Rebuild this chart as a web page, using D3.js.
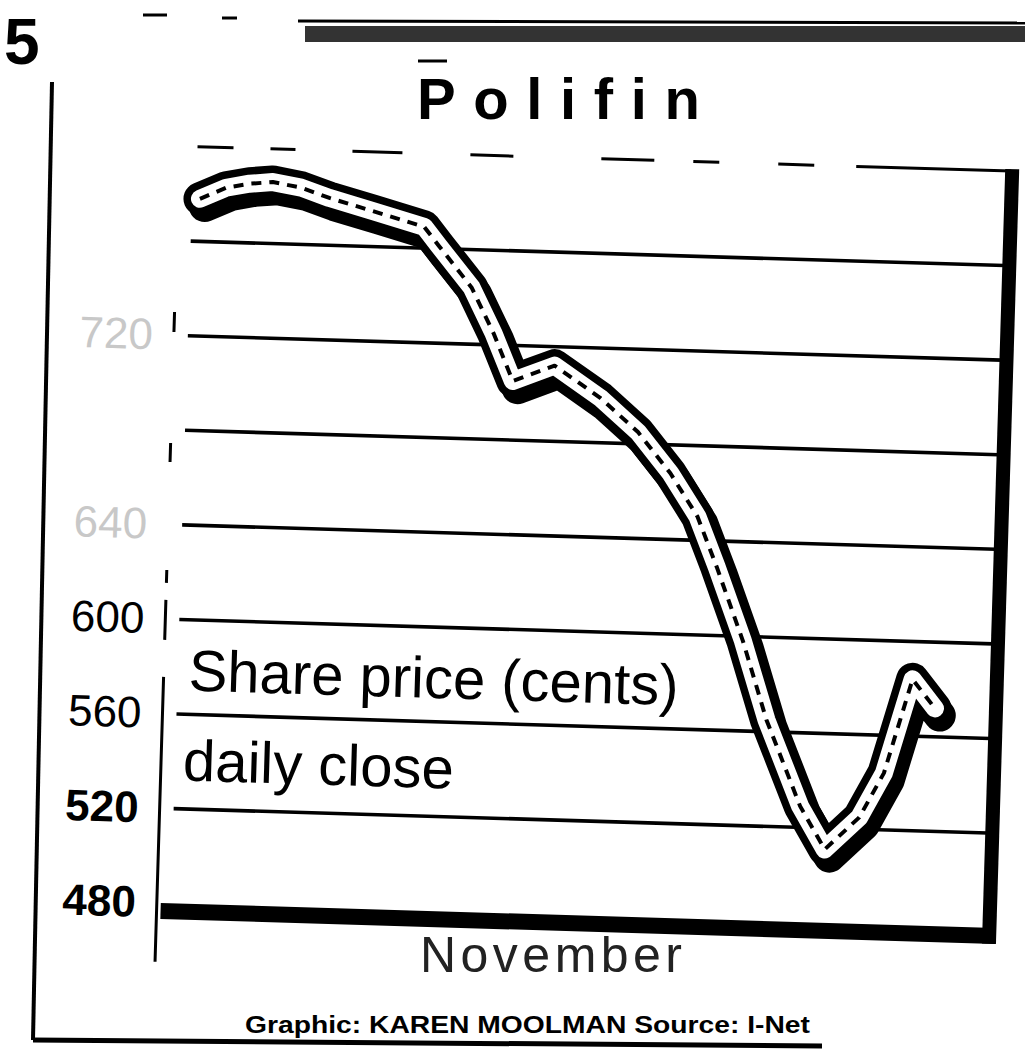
<!DOCTYPE html>
<html>
<head>
<meta charset="utf-8">
<script src="https://cdn.jsdelivr.net/npm/d3@7"></script>
<style>
  html, body { margin: 0; padding: 0; background: #fff; }
  svg { display: block; font-family: "Liberation Sans", Arial, sans-serif; }
</style>
</head>
<body>
<svg id="chart" width="1025" height="1063"></svg>
<script>
// ---- data ----
const title = "Polifin";
const xLabel = "November";
const noteLine1 = "Share price (cents)";
const noteLine2 = "daily close";
const footer = "Graphic: KAREN MOOLMAN  Source: I-Net";
const pageMark = "5";

// day of November (approx.) and daily close in cents
const days   = [1, 2, 2.9, 3.8, 4.9, 6, 7.7, 9.7, 10.3, 11.6, 12.5, 13.3, 14.9, 16.7, 18.2, 19.5, 20.6, 21.4, 22.5, 23.5, 24.9, 25.9, 27.2, 28.1, 29.1, 30];
const closes = [778, 783, 785, 786, 784, 780, 775, 769, 761, 744, 725, 705, 712, 699, 685, 668, 650, 629, 598, 565, 529, 511, 525, 544, 584, 572];

const gridValues  = [520, 560, 600, 640, 680, 720, 760];
const tickLabels  = [480, 520, 560, 600, 640, 720];
const fadedLabels = [640, 720];
const boldLabels  = [480, 520];

// ---- drawing ----
const svg = d3.select("#chart");

const x = d3.scaleLinear().domain([1, 30]).range([190, 940]);
const y = d3.scaleLinear().domain([480, 800]).range([903, 146]);

// outer frame of the clipping
svg.append("line").attr("x1", 52).attr("y1", 82).attr("x2", 33).attr("y2", 1040)
  .attr("stroke", "#000").attr("stroke-width", 4);
svg.append("line").attr("x1", 33).attr("y1", 1040).attr("x2", 822).attr("y2", 1046)
  .attr("stroke", "#000").attr("stroke-width", 5);

// top rule
svg.append("line").attr("x1", 298).attr("y1", 21).attr("x2", 1025).attr("y2", 23)
  .attr("stroke", "#000").attr("stroke-width", 3);
svg.append("rect").attr("x", 305).attr("y", 26).attr("width", 720).attr("height", 16)
  .attr("fill", "#000").attr("opacity", 0.8);
// stray short rules of the page
svg.append("line").attr("x1", 143).attr("x2", 167).attr("y1", 15).attr("y2", 15)
  .attr("stroke", "#000").attr("stroke-width", 3);
svg.append("line").attr("x1", 222).attr("x2", 237).attr("y1", 18).attr("y2", 18)
  .attr("stroke", "#000").attr("stroke-width", 3);
svg.append("line").attr("x1", 418).attr("x2", 447).attr("y1", 61).attr("y2", 61)
  .attr("stroke", "#000").attr("stroke-width", 3);

// page mark
svg.append("text").attr("x", 4).attr("y", 64).attr("font-size", 64).attr("font-weight", "bold")
  .text(pageMark);

// title
svg.append("text").attr("x", 417).attr("y", 119).attr("font-size", 58).attr("font-weight", "bold")
  .attr("textLength", 283).attr("lengthAdjust", "spacing").text(title);

// plot (scanned slightly rotated)
const g = svg.append("g").attr("transform", "rotate(1.72,170,530)");

// top border (broken)
g.append("line").attr("x1", 186).attr("x2", 1000).attr("y1", y(800)).attr("y2", y(800))
  .attr("stroke", "#000").attr("stroke-width", 3)
  .attr("stroke-dasharray", "36,37,25,57,50,68,43,88,53,39,26,59,36,42,300");

// grid lines
g.selectAll("line.grid").data(gridValues).join("line").attr("class", "grid")
  .attr("x1", 182).attr("x2", 996)
  .attr("y1", d => y(d)).attr("y2", d => y(d))
  .attr("stroke", "#000").attr("stroke-width", 3.6);

// left axis line (broken at the top)
g.append("line").attr("x1", 168).attr("x2", 168).attr("y1", 312).attr("y2", 962)
  .attr("stroke", "#000").attr("stroke-width", 3)
  .attr("stroke-dasharray", "20,111,19,108,13,17,40,37,400");

// bottom axis (heavy)
g.append("line").attr("x1", 172).attr("x2", 1007).attr("y1", y(480) + 8).attr("y2", y(480) + 8)
  .attr("stroke", "#000").attr("stroke-width", 16);

// right border (heavy)
g.append("line").attr("x1", 1001).attr("x2", 1001).attr("y1", y(800) - 2).attr("y2", y(480) + 16)
  .attr("stroke", "#000").attr("stroke-width", 14);

// y tick labels
const yAxis = g.append("g").attr("transform", "translate(168,0)")
  .call(d3.axisLeft(y).tickValues(tickLabels).tickSize(0).tickPadding(21).tickFormat(d3.format("d")));
yAxis.select(".domain").remove();
yAxis.selectAll("text")
  .attr("font-family", "'Liberation Sans', Arial, sans-serif")
  .attr("font-size", 44)
  .attr("font-weight", d => boldLabels.includes(d) ? "bold" : "normal")
  .attr("fill", d => fadedLabels.includes(d) ? "#c8c8c8" : "#000");

// notes
g.append("text").attr("x", 193).attr("y", 690).attr("font-size", 58).text(noteLine1);
g.append("text").attr("x", 190).attr("y", 780).attr("font-size", 58).text(noteLine2);

// the price line: shadow, outline, white core, dashed centre
const pts = days.map((d, i) => [d, closes[i]]);
const line = d3.line().x(d => x(d[0])).y(d => y(d[1])).curve(d3.curveLinear);
const pathD = line(pts);

g.append("path").attr("d", pathD).attr("transform", "translate(5,7)")
  .attr("fill", "none").attr("stroke", "#000").attr("stroke-width", 32)
  .attr("stroke-linejoin", "round").attr("stroke-linecap", "round");
g.append("path").attr("d", pathD)
  .attr("fill", "none").attr("stroke", "#000").attr("stroke-width", 33)
  .attr("stroke-linejoin", "round").attr("stroke-linecap", "round");
g.append("path").attr("d", pathD)
  .attr("fill", "none").attr("stroke", "#fff").attr("stroke-width", 18)
  .attr("stroke-linejoin", "round").attr("stroke-linecap", "round");
g.append("path").attr("d", pathD)
  .attr("fill", "none").attr("stroke", "#000").attr("stroke-width", 4)
  .attr("stroke-dasharray", "10,8").attr("stroke-linejoin", "round");

// x axis title
svg.append("text").attr("x", 420).attr("y", 972).attr("font-size", 50).attr("fill", "#222")
  .attr("textLength", 262).attr("lengthAdjust", "spacing").text(xLabel);

// credit line
svg.append("text").attr("x", 245).attr("y", 1033).attr("font-size", 24).attr("font-weight", "bold")
  .attr("textLength", 565).attr("lengthAdjust", "spacingAndGlyphs").text(footer);
</script>
</body>
</html>
